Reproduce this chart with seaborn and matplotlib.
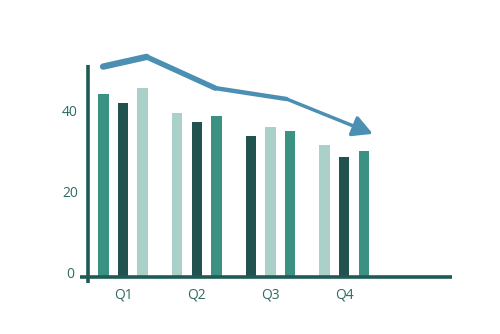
import matplotlib
matplotlib.use("Agg")
import matplotlib.pyplot as plt
import matplotlib.transforms as mtransforms
import seaborn as sns
import pandas as pd

# ---- data ----
quarters = ["Q1", "Q2", "Q3", "Q4"]
slot_a = [44.9, 40.2, 34.6, 32.3]
slot_b = [42.6, 38.0, 36.9, 29.3]
slot_c = [46.5, 39.5, 35.7, 30.9]
# colour tone of each bar (per quarter: slot a, b, c)
tones = [["mid", "dark", "light"],
         ["light", "dark", "mid"],
         ["dark", "light", "mid"],
         ["light", "dark", "mid"]]
trend_x = [-0.27, 0.32, 1.25, 2.22, 3.39]
trend_y = [51.7, 54.1, 46.4, 43.7, 35.1]
y_ticks = [0, 20, 40]

palette = {"mid": "#3b9182", "dark": "#22524f", "light": "#abd0ca"}
axis_col = "#1f5a55"
text_col = "#2e6b63"
line_col = "#4b8fb3"

rows = []
for q, a, b, c in zip(quarters, slot_a, slot_b, slot_c):
    rows += [(q, "a", a), (q, "b", b), (q, "c", c)]
df = pd.DataFrame(rows, columns=["quarter", "slot", "value"])

sns.set_theme(style="white")
plt.rcParams["font.family"] = ["Open Sans", "DejaVu Sans"]

fig = plt.figure(figsize=(5, 3.34), dpi=100)
ax = fig.add_axes([0.1576, 0.1615, 0.7517, 0.7397])

sns.barplot(data=df, x="quarter", y="value", hue="slot", order=quarters,
            hue_order=["a", "b", "c"], width=0.8, gap=0.47, dodge=True,
            legend=False, ax=ax, saturation=1, errorbar=None)

slot_index = {-1: 0, 0: 1, 1: 2}
for p in ax.patches:
    cx = p.get_x() + p.get_width() / 2
    qi = int(round(cx))
    si = slot_index[int(round((cx - qi) / 0.2667))]
    p.set_facecolor(palette[tones[qi][si]])
    p.set_edgecolor("none")

ax.set_xlim(-0.6, 4.5)
ax.set_ylim(-1, 60)
for s in ax.spines.values():
    s.set_visible(False)

# axis lines
ax.plot([-0.479, -0.479], [-1.7, 52.1], color=axis_col, lw=2.6,
        clip_on=False, solid_capstyle="butt")
ax.plot([-0.583, 4.46], [-0.15, -0.15], color=axis_col, lw=2.6,
        clip_on=False, solid_capstyle="butt")

# trend line with tapering width
widths = [4.6, 3.9, 3.2]
for i in range(3):
    ax.plot(trend_x[i:i + 2], trend_y[i:i + 2], color=line_col, lw=widths[i],
            solid_capstyle="round", clip_on=False)
ax.annotate("", xy=(trend_x[4], trend_y[4]), xytext=(trend_x[3], trend_y[3]),
            arrowprops=dict(arrowstyle="-|>,head_length=0.6,head_width=0.32",
                            color=line_col, lw=2.5, mutation_scale=20,
                            shrinkA=0, shrinkB=0))

ax.set_xlabel("")
ax.set_ylabel("")
ax.set_yticks(y_ticks)
ax.set_yticklabels([str(v) for v in y_ticks])
ax.tick_params(axis="y", length=0, pad=6.3, labelsize=10, labelcolor=text_col)
ax.tick_params(axis="x", length=0, pad=5, labelsize=10, labelcolor=text_col)
off = mtransforms.ScaledTranslation(0, 4 / 100, fig.dpi_scale_trans)
for lab in ax.get_yticklabels():
    lab.set_horizontalalignment("center")
    lab.set_transform(lab.get_transform() + off)

fig.savefig("out.png", dpi=100)
